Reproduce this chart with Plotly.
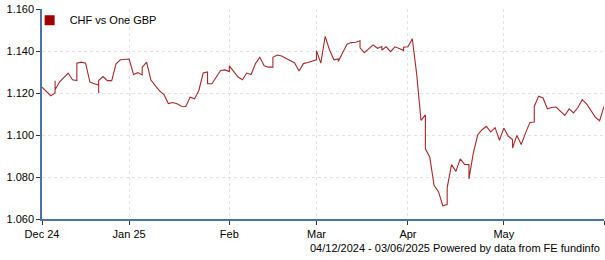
import plotly.graph_objects as go

# Trading-day index (business days from 04/12/2024); repeated index = intraday jump
trading_day = [
    0, 1, 2, 3, 3, 3, 4, 5, 6, 7, 8, 8, 9, 10, 11, 12, 13, 13, 13, 14, 15, 16, 17, 18, 19, 20,
    21, 22, 23, 23, 24, 25, 26, 27, 28, 29, 30, 31, 32, 33, 34, 35, 36, 37, 38, 38, 39, 40,
    41, 42, 43, 43, 44, 45, 46, 47, 48, 49, 50, 51, 52, 53, 53, 54, 55, 56, 57, 58, 59, 60,
    61, 62, 63, 63, 64, 65, 66, 67, 68, 68, 69, 70, 71, 72, 73, 73, 74, 75, 76, 77, 78, 78,
    79, 80, 81, 82, 83, 83, 84, 85, 86, 87, 88, 88, 89, 90, 91, 92, 93, 93, 94, 95, 96, 97,
    98, 98, 99, 100, 101, 102, 103, 104, 105, 106, 107, 108, 108, 109, 110, 111, 112, 113, 113,
    114, 115, 116, 117, 118, 119, 120, 121, 122, 123, 124, 125, 126, 127, 128, 129,
]
chf_per_gbp = [
    1.1228, 1.1205, 1.1187, 1.1200, 1.1258, 1.1215, 1.1252, 1.1275, 1.1295, 1.1263, 1.1259, 1.1342,
    1.1347, 1.1342, 1.1252, 1.1244, 1.1238, 1.1200, 1.1259, 1.1278, 1.1259, 1.1259, 1.1339, 1.1358,
    1.1360, 1.1362,
    1.1288, 1.1297, 1.1286, 1.1322, 1.1347, 1.1262, 1.1235, 1.1210, 1.1192, 1.1150, 1.1155, 1.1149,
    1.1137, 1.1136, 1.1180, 1.1172, 1.1212, 1.1295, 1.1300, 1.1244, 1.1244, 1.1277,
    1.1307, 1.1310, 1.1302, 1.1329, 1.1305, 1.1276, 1.1263, 1.1295, 1.1288, 1.1340, 1.1370, 1.1330,
    1.1323, 1.1323, 1.1370, 1.1381, 1.1376, 1.1365, 1.1350, 1.1343, 1.1305, 1.1340,
    1.1345, 1.1350, 1.1358, 1.1402, 1.1342, 1.1470, 1.1405, 1.1358, 1.1362, 1.1350, 1.1390, 1.1432,
    1.1440, 1.1442, 1.1449, 1.1415, 1.1392, 1.1410, 1.1429, 1.1413, 1.1421, 1.1405,
    1.1420, 1.1397, 1.1420, 1.1412, 1.1402, 1.1418, 1.1420, 1.1458, 1.1290, 1.1070, 1.1096, 1.0934,
    1.0895, 1.0760, 1.0730, 1.0663, 1.0669, 1.0748, 1.0859, 1.0827, 1.0886, 1.0860,
    1.0859, 1.0791, 1.0914, 1.1000, 1.1025, 1.1041, 1.1015, 1.1035, 1.0975, 1.1033, 1.0995, 1.0978,
    1.0938, 1.0998, 1.0955, 1.1010, 1.1060, 1.1062, 1.1136,
    1.1185, 1.1176, 1.1125, 1.1131, 1.1133, 1.1115, 1.1093, 1.1124, 1.1105, 1.1131, 1.1168, 1.1148,
    1.1118, 1.1085, 1.1068, 1.1136,
]

month_tick_days = [0, 20, 43, 63, 84, 106, 129]
month_labels = ["Dec 24", "Jan 25", "Feb", "Mar", "Apr", "May", ""]
y_ticks = [1.06, 1.08, 1.10, 1.12, 1.14, 1.16]

series_name = "CHF vs One GBP"
footer = "04/12/2024 - 03/06/2025 Powered by data from FE fundinfo"

LINE = "#a52a2a"
SWATCH = "#a00000"
AXIS = "#4a72a8"
GRID = "#e2e2e2"
FONT = "Liberation Sans, Arial, sans-serif"

fig = go.Figure()
fig.add_trace(go.Scatter(
    x=trading_day, y=chf_per_gbp, mode="lines",
    line=dict(color=LINE, width=1.1), showlegend=False, hoverinfo="skip",
))
fig.add_trace(go.Scatter(
    x=[None], y=[None], mode="markers", name=series_name,
    marker=dict(symbol="square", size=10, color=SWATCH),
))

axis_common = dict(
    showgrid=True, gridcolor=GRID, griddash="dot", gridwidth=1,
    showline=True, linecolor=AXIS, linewidth=1.5,
    ticks="outside", ticklen=4, tickcolor="#333333", tickwidth=1,
    zeroline=False, tickfont=dict(family=FONT, size=11, color="#000000"),
)
fig.update_xaxes(range=[0, 129], tickmode="array", tickvals=month_tick_days,
                 ticktext=month_labels, **axis_common)
fig.update_yaxes(range=[1.06, 1.16], tickmode="array", tickvals=y_ticks,
                 tickformat=".3f", **axis_common)

fig.update_layout(
    width=605, height=260,
    margin=dict(l=42, r=1, t=9, b=41),
    plot_bgcolor="white", paper_bgcolor="white",
    font=dict(family=FONT, size=11, color="#000000"),
    legend=dict(x=-0.022, y=1.016, xanchor="left", yanchor="top", bgcolor="rgba(0,0,0,0)",
                font=dict(family=FONT, size=11, color="#000000"), itemwidth=30,
                borderwidth=0),
    annotations=[dict(text=footer, xref="paper", yref="paper", x=1, y=0,
                      xanchor="right", yanchor="middle", yshift=-29, xshift=-2,
                      showarrow=False, font=dict(family=FONT, size=11, color="#000000"))],
)

fig.write_html("out.html")
